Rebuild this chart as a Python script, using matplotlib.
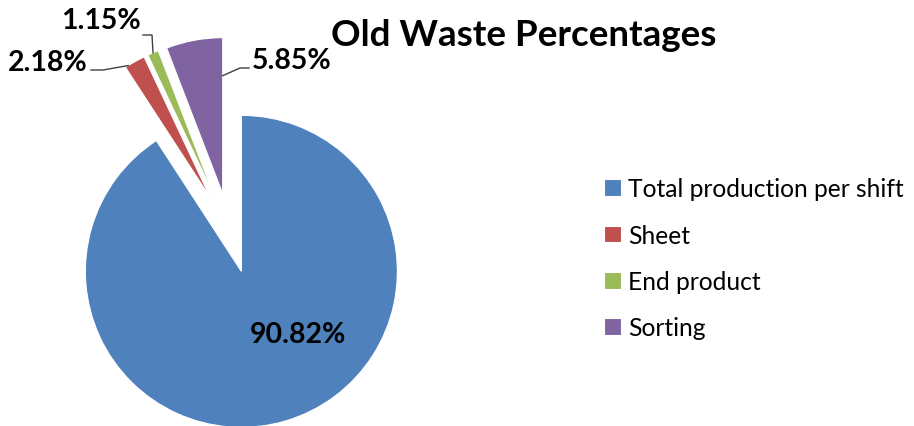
import numpy as np
import matplotlib
matplotlib.use("Agg")
import matplotlib.pyplot as plt

# data
categories = ["Total production per shift", "Sheet", "End product", "Sorting"]
shares = [90.82, 2.18, 1.15, 5.85]
pct_labels = ["90.82%", "2.18%", "1.15%", "5.85%"]
colors = ["#4F81BD", "#C0504D", "#9BBB59", "#8064A2"]

plt.rcParams["font.family"] = ["Lato", "DejaVu Sans"]

W, H = 914, 427
fig = plt.figure(figsize=(W / 100, H / 100), dpi=100)
ax = fig.add_axes([0, 0, 1, 1])

# pie in pixel-like coords (y up)
R = 156
wedges, _ = ax.pie(shares, colors=colors, startangle=90, counterclock=False,
                   radius=R, center=(230, H - 234), explode=[40] * 4,
                   wedgeprops=dict(edgecolor="white", linewidth=0.8), frame=True)
ax.set_xlim(0, W)
ax.set_ylim(0, H)
ax.set_aspect("equal")
ax.axis("off")

def arc_pt(w, frac, dr=0.0):
    ## point on wedge at fraction along the arc (0 = theta1), dr inward
    t = np.deg2rad(w.theta1 + frac * (w.theta2 - w.theta1))
    cx, cy = w.center
    return cx + (w.r - dr) * np.cos(t), cy + (w.r - dr) * np.sin(t)

lab_kw = dict(fontsize=20.5, fontweight="bold", color="black")

# big slice label
ax.text(298, H - 335, pct_labels[0], ha="center", va="center", **lab_kw)

# Sheet label + leader
ax.text(48, H - 63, pct_labels[1], ha="center", va="center", **lab_kw)
px, py = arc_pt(wedges[1], 0.85)
ax.plot([91, 103, px], [H - 71, H - 71, py], color="#404040", lw=1)

# End product label + leader
ax.text(101, H - 21, pct_labels[2], ha="center", va="center", **lab_kw)
px, py = arc_pt(wedges[2], 0.5)
ax.plot([143, 152, px], [H - 36, H - 36, py], color="#404040", lw=1)

# Sorting label + leader
ax.text(292, H - 61, pct_labels[3], ha="center", va="center", **lab_kw)
px, py = arc_pt(wedges[3], 0.0, dr=38)
ax.plot([px, 240, 249], [py, H - 69, H - 69], color="#404040", lw=1)

# title
ax.text(524, H - 36, "Old Waste Percentages", ha="center", va="center",
        fontsize=26.5, fontweight="bold", color="black")

# legend
leg = ax.legend(wedges, categories, loc="upper left", bbox_to_anchor=(592 / W, 1 - 166 / H),
                frameon=False, fontsize=17.7, handlelength=0.68, handleheight=0.68,
                handletextpad=0.3, labelspacing=0.95, borderpad=0)

plt.savefig("out.png", dpi=100)
